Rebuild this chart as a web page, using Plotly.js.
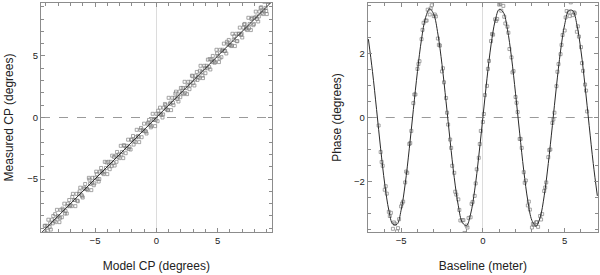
<!DOCTYPE html>
<html>
<head>
<meta charset="utf-8">
<script src="https://cdn.plot.ly/plotly-3.0.1.min.js"></script>
<style>html,body{margin:0;padding:0;background:#fff}#chart{width:600px;height:275px}</style>
</head>
<body>
<div id="chart"></div>
<script>
// ---- Left panel: closure phase, measured vs model ----
const cpModel = [-9.1,-9.0,-8.9,-8.8,-8.7,-8.6,-8.5,-8.4,-8.3,-8.2,-8.1,-8.0,-7.9,-7.8,-7.7,-7.6,-7.5,-7.4,-7.3,-7.2,-7.1,-7.0,-6.9,-6.8,-6.7,-6.6,-6.5,-6.4,-6.3,-6.2,-6.1,-6.0,-5.9,-5.8,-5.7,-5.6,-5.5,-5.4,-5.3,-5.2,-5.1,-5.0,-4.9,-4.8,-4.7,-4.6,-4.5,-4.4,-4.3,-4.2,-4.1,-4.0,-3.9,-3.8,-3.7,-3.6,-3.5,-3.4,-3.3,-3.2,-3.1,-3.0,-2.9,-2.8,-2.7,-2.6,-2.5,-2.4,-2.3,-2.2,-2.1,-2.0,-1.9,-1.8,-1.7,-1.6,-1.5,-1.4,-1.3,-1.2,-1.1,-1.0,-0.9,-0.8,-0.7,-0.6,-0.5,-0.4,-0.3,-0.2,-0.1,0.0,0.1,0.2,0.3,0.4,0.5,0.6,0.7,0.8,0.9,1.0,1.1,1.2,1.3,1.4,1.5,1.6,1.7,1.8,1.9,2.0,2.1,2.2,2.3,2.4,2.5,2.6,2.7,2.8,2.9,3.0,3.1,3.2,3.3,3.4,3.5,3.6,3.7,3.8,3.9,4.0,4.1,4.2,4.3,4.4,4.5,4.6,4.7,4.8,4.9,5.0,5.1,5.2,5.3,5.4,5.5,5.6,5.7,5.8,5.9,6.0,6.1,6.2,6.3,6.4,6.5,6.6,6.7,6.8,6.9,7.0,7.1,7.2,7.3,7.4,7.5,7.6,7.7,7.8,7.9,8.0,8.1,8.2,8.3,8.4,8.5,8.6,8.7,8.8,8.9,9.0,9.1];
const cpMeasured = [-8.8,-9.4,-8.8,-8.3,-8.9,-9.1,-8.3,-8.0,-8.4,-8.5,-7.5,-8.0,-8.5,-7.5,-8.1,-7.5,-7.0,-7.6,-7.8,-7.0,-6.7,-7.1,-7.2,-6.2,-6.7,-7.2,-6.2,-6.8,-6.2,-5.7,-6.3,-6.5,-5.7,-5.4,-5.8,-5.9,-4.9,-5.4,-5.9,-4.9,-5.5,-4.9,-4.4,-5.0,-5.2,-4.4,-4.1,-4.5,-4.6,-3.6,-4.1,-4.6,-3.6,-4.2,-3.6,-3.1,-3.7,-3.9,-3.1,-2.8,-3.2,-3.3,-2.3,-2.8,-3.3,-2.3,-2.9,-2.3,-1.8,-2.4,-2.6,-1.8,-1.5,-1.9,-2.0,-1.0,-1.5,-2.0,-1.0,-1.6,-1.0,-0.5,-1.1,-1.3,-0.5,-0.2,-0.6,-0.7,0.3,-0.2,-0.7,0.3,-0.3,0.3,0.8,0.2,0.0,0.8,1.1,0.7,0.6,1.6,1.1,0.6,1.6,1.0,1.6,2.1,1.5,1.3,2.1,2.4,2.0,1.9,2.9,2.4,1.9,2.9,2.3,2.9,3.4,2.8,2.6,3.4,3.7,3.3,3.2,4.2,3.7,3.2,4.2,3.6,4.2,4.7,4.1,3.9,4.7,5.0,4.6,4.5,5.5,5.0,4.5,5.5,4.9,5.5,6.0,5.4,5.2,6.0,6.3,5.9,5.8,6.8,6.3,5.8,6.8,6.2,6.8,7.3,6.7,6.5,7.3,7.6,7.2,7.1,8.1,7.6,7.1,8.1,7.5,8.1,8.6,8.0,7.8,8.6,8.9,8.5,8.4,9.4,8.9,8.4,9.4];
const cpModel2 = [-9.05,-8.85,-8.65,-8.45,-8.25,-8.05,-7.85,-7.65,-7.45,-7.25,-7.05,-6.85,-6.65,-6.45,-6.25,-6.05,-5.85,-5.65,-5.45,-5.25,-5.05,-4.85,-4.65,-4.45,-4.25,-4.05,-3.85,-3.65,-3.45,-3.25,-3.05,-2.85,-2.65,-2.45,-2.25,-2.05,-1.85,-1.65,-1.45,-1.25,-1.05,-0.85,-0.65,-0.45,-0.25,-0.05,0.15,0.35,0.55,0.75,0.95,1.15,1.35,1.55,1.75,1.95,2.15,2.35,2.55,2.75,2.95,3.15,3.35,3.55,3.75,3.95,4.15,4.35,4.55,4.75,4.95,5.15,5.35,5.55,5.75,5.95,6.15,6.35,6.55,6.75,6.95,7.15,7.35,7.55,7.75,7.95,8.15,8.35,8.55,8.75,8.95,9.15];
const cpMeasured2 = [-8.80,-9.20,-8.60,-8.60,-7.85,-8.10,-8.15,-7.40,-7.80,-7.20,-7.20,-6.45,-6.70,-6.75,-6.00,-6.40,-5.80,-5.80,-5.05,-5.30,-5.35,-4.60,-5.00,-4.40,-4.40,-3.65,-3.90,-3.95,-3.20,-3.60,-3.00,-3.00,-2.25,-2.50,-2.55,-1.80,-2.20,-1.60,-1.60,-0.85,-1.10,-1.15,-0.40,-0.80,-0.20,-0.20,0.55,0.30,0.25,1.00,0.60,1.20,1.20,1.95,1.70,1.65,2.40,2.00,2.60,2.60,3.35,3.10,3.05,3.80,3.40,4.00,4.00,4.75,4.50,4.45,5.20,4.80,5.40,5.40,6.15,5.90,5.85,6.60,6.20,6.80,6.80,7.55,7.30,7.25,8.00,7.60,8.20,8.20,8.95,8.70,8.65,9.40];
const cpLineX = [-9.4, 9.4];
const cpLineY = [-9.4, 9.4];

// ---- Right panel: phase vs baseline ----
const baseX1 = [-6.375,-6.25,-6.125,-6.0,-5.875,-5.75,-5.625,-5.5,-5.375,-5.25,-5.125,-5.0,-4.875,-4.75,-4.625,-4.5,-4.375,-4.25,-4.125,-4.0,-3.875,-3.75,-3.625,-3.5,-3.375,-3.25,-3.125,-3.0,-2.875,-2.75,-2.625,-2.5,-2.375,-2.25,-2.125,-2.0,-1.875,-1.75,-1.625,-1.5,-1.375,-1.25,-1.125,-1.0,-0.875,-0.75,-0.625,-0.5,-0.375,-0.25,-0.125,0,0.125,0.25,0.375,0.5,0.625,0.75,0.875,1.0,1.125,1.25,1.375,1.5,1.625,1.75,1.875,2.0,2.125,2.25,2.375,2.5,2.625,2.75,2.875,3.0,3.125,3.25,3.375,3.5,3.625,3.75,3.875,4.0,4.125,4.25,4.375,4.5,4.625,4.75,4.875,5.0,5.125,5.25,5.375,5.5,5.625,5.75,5.875,6.0,6.125,6.25,6.375];
const phaseY1 = [-0.25,-1.08,-1.51,-2.26,-2.38,-2.95,-2.98,-3.48,-3.32,-3.56,-3.18,-2.78,-2.63,-2.03,-1.73,-0.83,-0.42,0.45,0.72,1.52,1.76,2.45,2.96,3.03,3.37,3.22,3.51,3.17,3.16,2.47,2.25,1.44,1.10,0.61,-0.22,-0.69,-1.51,-1.73,-2.41,-2.56,-3.22,-3.21,-3.61,-3.38,-3.14,-3.12,-2.64,-2.45,-1.62,-1.26,-0.42,-0.14,0.70,0.99,1.77,2.39,2.59,3.07,3.08,3.53,3.34,3.49,2.94,2.84,2.14,1.88,1.45,0.64,0.17,-0.67,-0.95,-1.71,-1.97,-2.75,-2.88,-3.44,-3.36,-3.28,-3.42,-3.08,-3.02,-2.30,-2.03,-1.24,-1.00,-0.17,0.15,0.98,1.67,1.98,2.58,2.72,3.33,3.29,3.60,3.20,3.26,2.68,2.53,2.20,1.46,1.03,0.19];
const baseX2 = [-6.19,-5.94,-5.69,-5.44,-5.19,-4.94,-4.69,-4.44,-4.19,-3.94,-3.69,-3.44,-3.19,-2.94,-2.69,-2.44,-2.19,-1.94,-1.69,-1.44,-1.19,-0.94,-0.69,-0.44,-0.19,0.06,0.31,0.56,0.81,1.06,1.31,1.56,1.81,2.06,2.31,2.56,2.81,3.06,3.31,3.56,3.81,4.06,4.31,4.56,4.81,5.06,5.31,5.56,5.81,6.06,6.31];
const phaseY2 = [-1.39,-2.15,-3.08,-3.28,-3.46,-2.69,-1.69,-0.80,0.72,1.67,2.74,3.03,3.41,3.22,2.27,1.54,0.15,-0.95,-2.32,-2.89,-3.21,-3.44,-2.70,-2.06,-0.83,0.11,1.52,2.61,3.02,3.55,3.15,2.65,1.41,0.46,-0.67,-2.04,-2.63,-3.33,-3.27,-3.19,-2.19,-1.02,-0.06,1.43,2.27,3.13,3.17,3.29,2.85,1.70,0.84];
const fitX = [-7.0,-6.75,-6.5,-6.25,-6.0,-5.75,-5.5,-5.25,-5.0,-4.75,-4.5,-4.25,-4.0,-3.75,-3.5,-3.25,-3.0,-2.75,-2.5,-2.25,-2.0,-1.75,-1.5,-1.25,-1.0,-0.75,-0.5,-0.25,0,0.25,0.5,0.75,1.0,1.25,1.5,1.75,2.0,2.25,2.5,2.75,3.0,3.25,3.5,3.75,4.0,4.25,4.5,4.75,5.0,5.25,5.5,5.75,6.0,6.25,6.5,6.75,7.0];
const fitY = [2.45,1.44,0.25,-0.98,-2.08,-2.90,-3.34,-3.34,-2.90,-2.08,-0.98,0.25,1.44,2.45,3.13,3.40,3.22,2.61,1.66,0.49,-0.74,-1.88,-2.76,-3.29,-3.38,-3.02,-2.27,-1.21,0,1.21,2.27,3.02,3.38,3.29,2.76,1.88,0.74,-0.49,-1.66,-2.61,-3.22,-3.40,-3.13,-2.45,-1.44,-0.25,0.98,2.08,2.90,3.34,3.34,2.90,2.08,0.98,-0.25,-1.44,-2.45];

const FONT = 'Liberation Sans, Arial, Helvetica, sans-serif';
const markerStyle = {symbol: 'square-open', size: 3, color: '#808080', line: {width: 0.7, color: '#808080'}};

const traces = [
  {x: cpModel.concat(cpModel2), y: cpMeasured.concat(cpMeasured2), type: 'scatter', mode: 'markers', marker: markerStyle, xaxis: 'x', yaxis: 'y'},
  {x: cpLineX, y: cpLineY, type: 'scatter', mode: 'lines', line: {color: '#2a2a2a', width: 1}, xaxis: 'x', yaxis: 'y'},
  {x: baseX1.concat(baseX2), y: phaseY1.concat(phaseY2), type: 'scatter', mode: 'markers', marker: markerStyle, xaxis: 'x2', yaxis: 'y2'},
  {x: fitX, y: fitY, type: 'scatter', mode: 'lines', line: {color: '#2a2a2a', width: 1, shape: 'spline'}, xaxis: 'x2', yaxis: 'y2'}
];

function axisBase(extra) {
  return Object.assign({
    showgrid: false,
    showline: true, linecolor: '#8c8c8c', linewidth: 1, mirror: 'allticks',
    ticks: 'inside', ticklen: 4, tickcolor: '#8c8c8c', tickwidth: 1,
    tickfont: {family: FONT, size: 9.5, color: '#222'},
    zeroline: false, fixedrange: true
  }, extra);
}

const layout = {
  width: 600, height: 275,
  margin: {l: 41, r: 2, t: 3, b: 43},
  paper_bgcolor: '#fff', plot_bgcolor: '#fff',
  showlegend: false,
  font: {family: FONT, size: 12, color: '#222'},
  xaxis: axisBase({domain: [0, 0.4142], range: [-9.4, 9.4], tickvals: [-5, 0, 5], ticktext: ['\u22125', '0', '5'],
    minor: {dtick: 1, tick0: 0, ticklen: 3, ticks: 'inside', tickcolor: '#8c8c8c'},
    zeroline: true, zerolinecolor: '#dcdcdc', zerolinewidth: 1,
    title: {text: 'Model CP (degrees)', font: {family: FONT, size: 12, color: '#222'}, standoff: 16}, anchor: 'y'}),
  yaxis: axisBase({domain: [0, 1], range: [-9.3, 9.3], tickvals: [-5, 0, 5], ticktext: ['\u22125', '0', '5'],
    minor: {dtick: 1, tick0: 0, ticklen: 3, ticks: 'inside', tickcolor: '#8c8c8c'},
    title: {text: 'Measured CP (degrees)', font: {family: FONT, size: 12, color: '#222'}, standoff: 11}, anchor: 'x'}),
  xaxis2: axisBase({domain: [0.5866, 1], range: [-7.04, 7.04], tickvals: [-5, 0, 5], ticktext: ['\u22125', '0', '5'],
    minor: {dtick: 1, tick0: 0, ticklen: 3, ticks: 'inside', tickcolor: '#8c8c8c'},
    zeroline: true, zerolinecolor: '#dcdcdc', zerolinewidth: 1,
    title: {text: 'Baseline (meter)', font: {family: FONT, size: 12, color: '#222'}, standoff: 16}, anchor: 'y2'}),
  yaxis2: axisBase({domain: [0, 1], range: [-3.58, 3.58], tickvals: [-2, 0, 2], ticktext: ['\u22122', '0', '2'],
    minor: {dtick: 0.5, tick0: 0, ticklen: 3, ticks: 'inside', tickcolor: '#8c8c8c'},
    title: {text: 'Phase (degrees)', font: {family: FONT, size: 12, color: '#222'}, standoff: 9}, anchor: 'x2'}),
  shapes: [
    {type: 'line', xref: 'x domain', yref: 'y', x0: 0, x1: 1, y0: 0, y1: 0, layer: 'below', line: {color: '#9a9a9a', width: 1, dash: 'dash'}},
    {type: 'line', xref: 'x2 domain', yref: 'y2', x0: 0, x1: 1, y0: 0, y1: 0, layer: 'below', line: {color: '#9a9a9a', width: 1, dash: 'dash'}}
  ]
};

Plotly.newPlot('chart', traces, layout, {staticPlot: true, displayModeBar: false});
</script>
</body>
</html>
